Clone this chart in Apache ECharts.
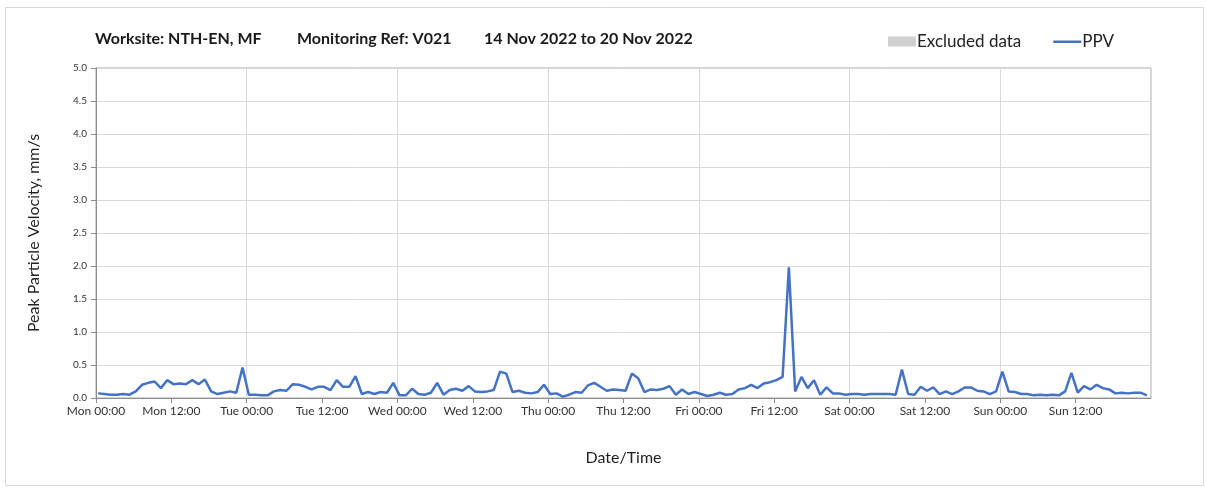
<!DOCTYPE html>
<html>
<head>
<meta charset="utf-8">
<title>PPV V021</title>
<script src="https://cdn.jsdelivr.net/npm/echarts@6/dist/echarts.min.js"></script>
<style>
  html, body { margin: 0; padding: 0; background: #fff; }
  #chart { width: 1207px; height: 489px; }
</style>
</head>
<body>
<div id="chart"></div>
<script>
// tick labels
const dayNames = ['Mon', 'Tue', 'Wed', 'Thu', 'Fri', 'Sat', 'Sun'];
const readingMinute = 20; // hourly readings taken at hh:20

// PPV (mm/s), one value per hour
const ppvMon = [0.07, 0.06, 0.05, 0.05, 0.06, 0.05, 0.10, 0.20, 0.23, 0.25, 0.15, 0.27,
                0.21, 0.22, 0.21, 0.27, 0.21, 0.28, 0.10, 0.06, 0.08, 0.10, 0.08, 0.46];
const ppvTue = [0.05, 0.05, 0.04, 0.04, 0.10, 0.12, 0.11, 0.21, 0.20, 0.17, 0.13, 0.17,
                0.17, 0.12, 0.27, 0.17, 0.17, 0.33, 0.06, 0.09, 0.06, 0.09, 0.08, 0.23];
const ppvWed = [0.04, 0.04, 0.14, 0.06, 0.05, 0.08, 0.23, 0.05, 0.12, 0.14, 0.11, 0.18,
                0.10, 0.09, 0.10, 0.12, 0.40, 0.37, 0.09, 0.11, 0.08, 0.07, 0.09, 0.20];
const ppvThu = [0.06, 0.07, 0.02, 0.05, 0.09, 0.08, 0.19, 0.23, 0.17, 0.11, 0.13, 0.12,
                0.11, 0.37, 0.30, 0.09, 0.13, 0.12, 0.14, 0.18, 0.05, 0.13, 0.06, 0.09];
const ppvFri = [0.06, 0.03, 0.05, 0.08, 0.05, 0.06, 0.13, 0.15, 0.20, 0.15, 0.22, 0.24,
                0.27, 0.32, 1.98, 0.10, 0.32, 0.15, 0.27, 0.05, 0.16, 0.07, 0.07, 0.05];
const ppvSat = [0.06, 0.06, 0.05, 0.06, 0.06, 0.06, 0.06, 0.05, 0.43, 0.06, 0.05, 0.17,
                0.11, 0.16, 0.06, 0.10, 0.06, 0.10, 0.16, 0.16, 0.11, 0.10, 0.06, 0.10];
const ppvSun = [0.40, 0.10, 0.09, 0.06, 0.06, 0.04, 0.05, 0.04, 0.05, 0.04, 0.10, 0.38,
                0.08, 0.18, 0.13, 0.20, 0.15, 0.13, 0.07, 0.08, 0.07, 0.08, 0.08, 0.04];

const ppvByDay = [ppvMon, ppvTue, ppvWed, ppvThu, ppvFri, ppvSat, ppvSun];

// [hours since Mon 00:00, value]
const ppvData = [];
ppvByDay.forEach((day, d) => {
  day.forEach((v, h) => {
    ppvData.push([d * 24 + h + readingMinute / 60, v]);
  });
});

const FONT = 'Lato, "Open Sans", sans-serif';
const TITLE_FONT = 'bold 16px ' + FONT;

// thin line legend icon (tiny dots at top/bottom keep the box 10px tall)
const LINE_ICON = 'path://M0,0L0.01,0L0.01,0.01Z M0,4L28,4L28,6.5L0,6.5Z M28,10L28.01,10L28.01,10.01Z';

const chart = echarts.init(document.getElementById('chart'));

const option = {
  animation: false,
  backgroundColor: '#fff',
  textStyle: { fontFamily: FONT },
  graphic: [
    {
      type: 'rect',
      shape: { x: 5.5, y: 7.5, width: 1198, height: 478 },
      style: { fill: 'none', stroke: '#d9d9d9', lineWidth: 1 },
      silent: true
    },
    {
      type: 'text', left: 95, top: 31,
      style: { text: 'Worksite: NTH-EN, MF', font: TITLE_FONT, fill: '#1a1a1a' }
    },
    {
      type: 'text', left: 297, top: 31,
      style: { text: 'Monitoring Ref: V021', font: TITLE_FONT, fill: '#1a1a1a' }
    },
    {
      type: 'text', left: 484, top: 31,
      style: { text: '14 Nov 2022 to 20 Nov 2022', font: TITLE_FONT, fill: '#1a1a1a' }
    }
  ],
  legend: {
    top: 33,
    left: 888,
    padding: 0,
    itemGap: 32,
    itemWidth: 28,
    itemHeight: 10,
    textStyle: { fontSize: 17, color: '#222', fontFamily: FONT, padding: [0, 0, 0, -4] },
    data: [
      { name: 'Excluded data', icon: 'rect', itemStyle: { color: '#d0d0d0' } },
      { name: 'PPV', icon: LINE_ICON, itemStyle: { color: '#4472c4' } }
    ]
  },
  grid: {
    left: 96,
    right: 56,
    top: 68,
    bottom: 91,
    show: true,
    borderColor: '#a6a6a6',
    borderWidth: 1
  },
  xAxis: [
    {
      type: 'value',
      min: 0,
      max: 168,
      interval: 12,
      name: 'Date/Time',
      nameLocation: 'middle',
      nameGap: 52,
      nameTextStyle: { fontSize: 16, color: '#222', fontFamily: FONT },
      axisLine: { show: true, onZero: false, lineStyle: { color: '#8c8c8c' } },
      axisTick: { show: true, length: 5, lineStyle: { color: '#8c8c8c' } },
      splitLine: { show: false },
      axisLabel: {
        showMaxLabel: false,
        color: '#333',
        fontSize: 12,
        margin: 7,
        formatter: function (h) {
          const d = Math.floor(h / 24);
          return dayNames[d] + (h % 24 === 0 ? ' 00:00' : ' 12:00');
        }
      }
    },
    {
      // daily gridlines only
      type: 'value',
      min: 0,
      max: 168,
      interval: 24,
      position: 'bottom',
      axisLine: { show: false },
      axisTick: { show: false },
      axisLabel: { show: false },
      splitLine: { show: true, lineStyle: { color: '#d9d9d9', width: 1 } }
    }
  ],
  yAxis: {
    type: 'value',
    min: 0,
    max: 5,
    interval: 0.5,
    name: 'Peak Particle Velocity, mm/s',
    nameLocation: 'middle',
    nameGap: 54,
    nameTextStyle: { fontSize: 16, color: '#222', fontFamily: FONT },
    axisLine: { show: true, lineStyle: { color: '#8c8c8c' } },
    axisTick: { show: true, length: 5, lineStyle: { color: '#8c8c8c' } },
    axisLabel: {
      color: '#333',
      fontSize: 10,
      margin: 9,
      formatter: v => v.toFixed(1)
    },
    splitLine: { show: true, lineStyle: { color: '#d9d9d9', width: 1 } }
  },
  series: [
    {
      name: 'Excluded data',
      type: 'bar',
      data: [],
      itemStyle: { color: '#d0d0d0' }
    },
    {
      name: 'PPV',
      type: 'line',
      xAxisIndex: 0,
      data: ppvData,
      showSymbol: false,
      symbol: 'none',
      lineStyle: { color: '#4472c4', width: 2.5 },
      itemStyle: { color: '#4472c4' }
    }
  ]
};

chart.setOption(option);
</script>
</body>
</html>
